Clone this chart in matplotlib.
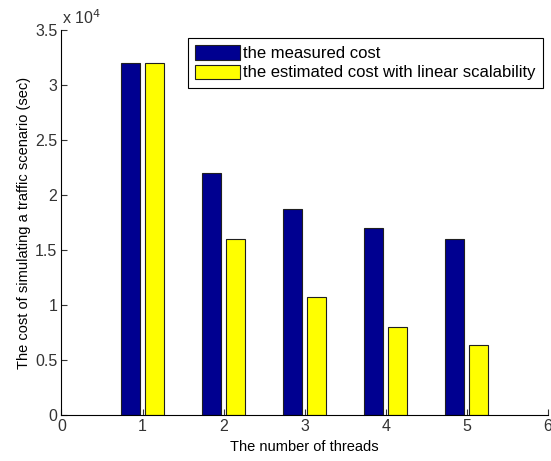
import numpy as np
import matplotlib
matplotlib.use("Agg")
import matplotlib.pyplot as plt
from matplotlib.ticker import FuncFormatter

plt.rcParams["font.family"] = ["Liberation Sans", "DejaVu Sans"]

threads = [1, 2, 3, 4, 5]
measured = [32000, 22000, 18700, 17000, 16000]
estimated = [32000, 16000, 10700, 8000, 6400]

fig = plt.figure(figsize=(5.51, 4.61), dpi=100)
ax = fig.add_axes([0.1116, 0.0998, 0.8824, 0.835])

x = np.array(threads)
bw = 0.235
ax.bar(x - 0.145, measured, width=bw, color="#000090", edgecolor="#202020",
       linewidth=0.8, label="the measured cost")
ax.bar(x + 0.145, estimated, width=bw, color="#ffff00", edgecolor="#202020",
       linewidth=0.8, label="the estimated cost with linear scalability")

ax.set_xlim(0, 6)
ax.set_ylim(0, 35000)
ax.set_xticks(range(0, 7))
ax.set_yticks(np.arange(0, 35001, 5000))
ax.yaxis.set_major_formatter(FuncFormatter(lambda v, p: f"{v / 1e4:g}"))
ax.tick_params(direction="in", length=4, labelsize=11.5, colors="#333333", pad=3)
for s in ("top", "right"):
    ax.spines[s].set_visible(False)

ax.text(0.002, 1.008, r"x 10$^4$", transform=ax.transAxes, fontsize=11.5,
        ha="left", va="bottom", color="#333333")

ax.set_xlabel("The number of threads", fontsize=10.5, labelpad=4)
ax.set_ylabel("The cost of simulating a traffic scenario (sec)", fontsize=10.5, labelpad=3)

leg = ax.legend(loc="upper right", bbox_to_anchor=(0.99, 0.98), fontsize=12,
                fancybox=False, framealpha=1, edgecolor="black",
                handlelength=2.7, handleheight=0.95, handletextpad=0.15,
                borderpad=0.45, labelspacing=0.2, borderaxespad=0)
leg.get_frame().set_linewidth(0.8)

fig.savefig("out.png", dpi=100)
